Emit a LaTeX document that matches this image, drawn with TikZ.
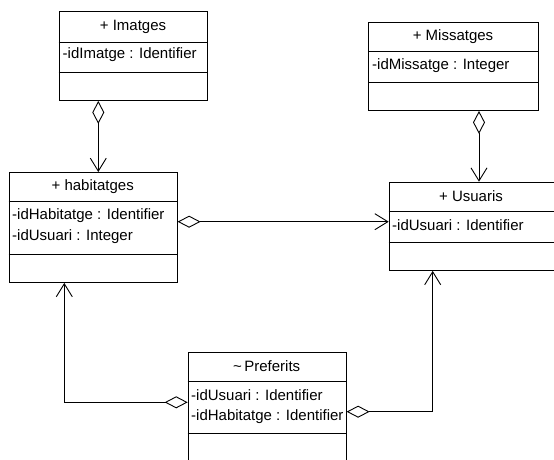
\documentclass[tikz,border=0pt]{standalone}
\usepackage{fontspec}
\setmainfont{Liberation Sans}
\usetikzlibrary{arrows.meta}
\begin{document}
\begin{tikzpicture}[x=1pt,y=-1pt,
  classbox/.style={draw, line width=0.9pt, anchor=north west, inner sep=0pt},
  sep/.style={line width=0.9pt},
  title/.style={font=\fontsize{15}{18}\selectfont, inner sep=0pt},
  attr/.style={font=\fontsize{15}{18}\selectfont, inner sep=0pt, anchor=west},
  assoc/.style={line width=0.9pt,
    {Diamond[open,length=23pt,width=12pt,line width=0.9pt]}-{Straight Barb[length=13pt,width=16pt,line width=0.9pt]}}]
\useasboundingbox (0,0) rectangle (554,459);

% + Imatges
\node[classbox, minimum width=148.5pt, minimum height=89pt] (imatges) at (58.7,11) {};
\draw[sep] (imatges.west |- 0,42) -- (imatges.east |- 0,42);
\draw[sep] (imatges.west |- 0,72) -- (imatges.east |- 0,72);
\node[title] (imatgesT) at (133,26.5) {+ Imatges};
\node[attr] (imatgesA) at (62.5,54.5) {-idImatge : Identifier};

% + habitatges
\node[classbox, minimum width=168pt, minimum height=110pt] (habitatges) at (8.7,172) {};
\draw[sep] (habitatges.west |- 0,201.7) -- (habitatges.east |- 0,201.7);
\draw[sep] (habitatges.west |- 0,254) -- (habitatges.east |- 0,254);
\node[title] (habitatgesT) at (92.7,186.5) {+ habitatges};
\node[attr] (habitatgesA) at (12,215.5) {-idHabitatge : Identifier};
\node[attr] (habitatgesB) at (12,236.5) {-idUsuari : Integer};

% + Missatges
\node[classbox, minimum width=169.4pt, minimum height=88.3pt] (missatges) at (368.3,21.7) {};
\draw[sep] (missatges.west |- 0,51.7) -- (missatges.east |- 0,51.7);
\draw[sep] (missatges.west |- 0,82.7) -- (missatges.east |- 0,82.7);
\node[title] (missatgesT) at (453,36.5) {+ Missatges};
\node[attr] (missatgesA) at (372,65.5) {-idMissatge : Integer};

% + Usuaris (runs past the right edge)
\node[classbox, minimum width=180pt, minimum height=88.3pt] (usuaris) at (388.7,181.7) {};
\draw[sep] (usuaris.west |- 0,211) -- (usuaris.east |- 0,211);
\draw[sep] (usuaris.west |- 0,242.7) -- (usuaris.east |- 0,242.7);
\node[title] (usuarisT) at (471,196) {+ Usuaris};
\node[attr] (usuarisA) at (392,225.5) {-idUsuari : Identifier};

% ~ Preferits (runs past the bottom edge)
\node[classbox, minimum width=158pt, minimum height=120pt] (preferits) at (187.7,352) {};
\draw[sep] (preferits.west |- 0,381) -- (preferits.east |- 0,381);
\draw[sep] (preferits.west |- 0,433.7) -- (preferits.east |- 0,433.7);
\node[title] (preferitsT) at (266.7,366) {\textasciitilde\,Preferits};
\node[attr] (preferitsA) at (191,395.5) {-idUsuari : Identifier};
\node[attr] (preferitsB) at (191,416.5) {-idHabitatge : Identifier};

% associations (aggregation diamond at the source end)
\draw[assoc] (98.3,0 |- imatges.south) -- (98.3,0 |- habitatges.north);
\draw[assoc] (479,0 |- missatges.south) -- (479,0 |- usuaris.north);
\draw[assoc] (habitatges.east |- 0,221.7) -- (usuaris.west |- 0,221.7);
\draw[assoc] (preferits.west |- 0,402.3) -| (64.3,0 |- habitatges.south);
\draw[assoc] (preferits.east |- 0,411.7) -| (432.7,0 |- usuaris.south);
\end{tikzpicture}
\end{document}
